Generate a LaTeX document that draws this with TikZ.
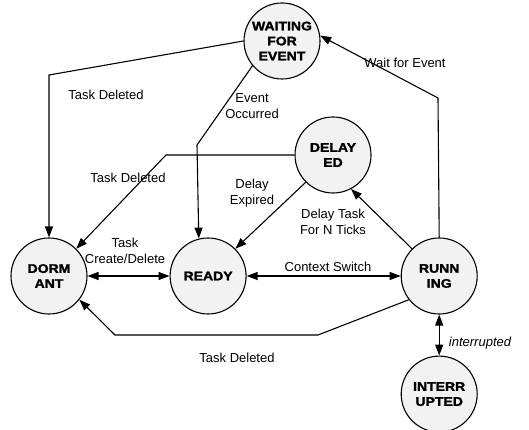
\documentclass[tikz,border=0pt]{standalone}
\usepackage{fontspec}
\setmainfont{Liberation Sans}
\newfontfamily\negrito[FakeStretch=1.12,FakeBold=2]{Liberation Sans Bold}
\usetikzlibrary{arrows.meta, positioning}
\tikzset{
  estado/.style={
    draw, circle, line width=1.1pt, fill=black!5, minimum size=76pt,
    inner sep=0pt, align=center, font=\negrito\fontsize{12.5}{15}\selectfont
  },
  rotulo/.style={font=\fontsize{13}{15.5}\selectfont, align=center, inner sep=0pt},
  seta/.style={-{Triangle[length=11pt,width=8pt]}, line width=1.1pt},
  seta2/.style={{Triangle[length=11pt,width=8pt]}-{Triangle[length=11pt,width=8pt]}, line width=1.1pt},
}

\begin{document}
\begin{tikzpicture}[x=1pt, y=-1pt]
        \useasboundingbox (0,0) rectangle (529,430);

        \node[estado] (dorm) at (49,276) {DORM\\ANT};
        \node[estado, right=82pt of dorm]  (ready) {READY};
        \node[estado, right=154pt of ready] (run)  {RUNN\\ING};
        \node[estado, below=41pt of run]    (intr) {INTERR\\UPTED};

        \node[estado] (wait)  at (282,41)  {WAITING\\FOR\\EVENT};
        \node[estado] (delay) at (333,155) {DELAY\\ED};

        % cantos das linhas
        \coordinate (c1) at (49,75);
        \coordinate (c2) at (197,145);
        \coordinate (c3) at (166,155);
        \coordinate (c4) at (438,98);
        \coordinate (c5) at (318,335);
        \coordinate (c6) at (115,335);

        \draw[seta] (wait.west) -- (c1) -- (dorm);
        \draw[seta] (wait.220) -- (c2) -- (ready.104);
        \draw[seta] (delay.west) -- (c3) -- (dorm.45);
        \draw[seta] (delay.225) -- (ready.45);
        \draw[seta] (run.135) -- (delay.-62);
        \draw[seta] (run.north) -- (c4) -- (wait.8);
        \draw[seta] (run.218) -- (c5) -- (c6) -- (dorm.-38);
        \draw[seta2] (dorm.east) -- (ready.west);
        \draw[seta2] (ready.east) -- (run.west);
        \draw[seta2] (run.south) -- (intr.north);

        \node[rotulo] (l1) at (106,95)  {Task Deleted};
        \node[rotulo] (l2) at (252,106) {Event\\Occurred};
        \node[rotulo] (l3) at (128,178) {Task Deleted};
        \node[rotulo] (l4) at (252,193) {Delay\\Expired};
        \node[rotulo] (l5) at (333,222) {Delay Task\\For N Ticks};
        \node[rotulo] (l6) at (405,63)  {Wait for Event};
        \node[rotulo] (l7) at (125,251) {Task\\Create/Delete};
        \node[rotulo] (l8) at (328,267) {Context Switch};
        \node[rotulo] (l9) at (237,358) {Task Deleted};
        \node[rotulo, font=\itshape\fontsize{13}{15.5}\selectfont] (l10) at (480,343) {interrupted};
      \end{tikzpicture}
\end{document}
